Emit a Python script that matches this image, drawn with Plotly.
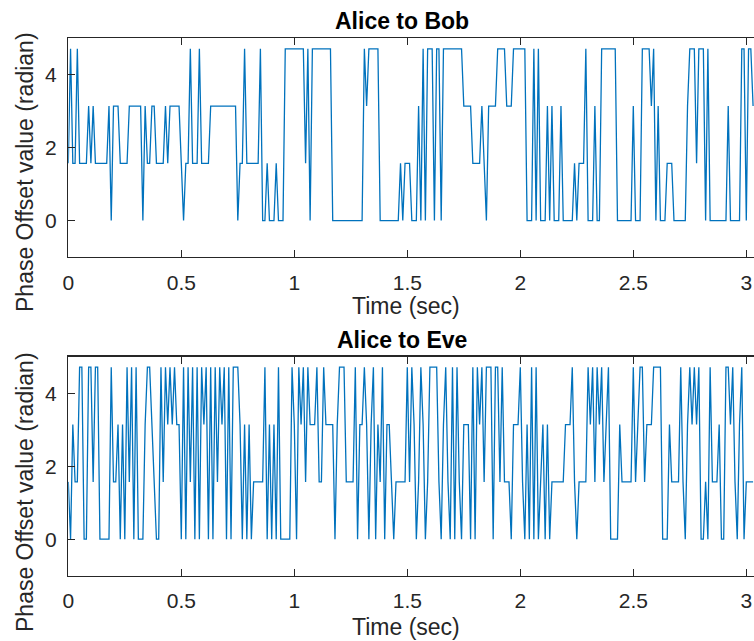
import math
import plotly.graph_objects as go

# Phase level codes (0..3 -> 0, pi/2, pi, 3pi/2), one sample per SAMPLE_PERIOD seconds
SAMPLE_PERIOD = 0.01

bob_levels = [
    1, 3, 1, 1, 3, 1, 1, 1, 1, 2,
    1, 2, 1, 1, 1, 1, 1, 1, 2, 0,
    2, 2, 2, 1, 1, 1, 1, 2, 2, 2,
    2, 2, 2, 0, 2, 1, 1, 2, 2, 1,
    1, 1, 1, 2, 1, 2, 2, 2, 2, 2,
    1, 0, 1, 1, 3, 1, 1, 1, 3, 1,
    1, 1, 1, 2, 2, 2, 2, 2, 2, 2,
    2, 2, 2, 2, 2, 0, 1, 1, 3, 1,
    1, 1, 1, 1, 1, 3, 0, 0, 1, 0,
    0, 0, 1, 0, 0, 0, 3, 3, 3, 3,
    3, 3, 3, 3, 3, 1, 3, 0, 3, 3,
    3, 3, 3, 3, 3, 3, 3, 0, 0, 0,
    0, 0, 0, 0, 0, 0, 0, 0, 0, 0,
    0, 3, 2, 3, 3, 3, 3, 3, 0, 0,
    0, 0, 0, 0, 0, 0, 0, 1, 0, 1,
    1, 1, 0, 0, 0, 2, 0, 3, 0, 3,
    3, 3, 0, 3, 3, 0, 3, 3, 3, 3,
    3, 3, 3, 3, 3, 2, 2, 2, 2, 1,
    1, 1, 1, 2, 1, 0, 2, 2, 2, 2,
    3, 3, 3, 3, 2, 2, 2, 3, 3, 3,
    3, 3, 3, 0, 0, 0, 3, 0, 3, 0,
    0, 0, 2, 0, 2, 0, 0, 0, 2, 0,
    0, 0, 0, 0, 1, 0, 1, 1, 1, 3,
    0, 0, 0, 2, 0, 0, 3, 3, 3, 3,
    3, 3, 3, 0, 0, 0, 0, 0, 0, 0,
    2, 0, 0, 0, 3, 3, 3, 3, 2, 3,
    0, 2, 0, 0, 0, 1, 1, 1, 0, 0,
    0, 0, 0, 0, 2, 3, 3, 3, 1, 3,
    3, 3, 0, 3, 0, 0, 0, 0, 0, 0,
    0, 0, 2, 0, 0, 0, 0, 0, 3, 3,
    0, 3, 3, 2,
]

eve_levels = [
    1, 0, 2, 1, 1, 3, 3, 0, 0, 3,
    3, 1, 3, 3, 0, 0, 0, 0, 0, 3,
    1, 1, 2, 0, 2, 0, 3, 1, 3, 0,
    3, 0, 0, 0, 2, 3, 3, 2, 1, 0,
    0, 3, 1, 3, 2, 3, 2, 3, 2, 2,
    0, 3, 0, 3, 1, 3, 0, 3, 0, 3,
    2, 3, 0, 3, 0, 3, 1, 3, 2, 3,
    0, 3, 0, 3, 3, 3, 2, 0, 2, 0,
    2, 0, 1, 1, 1, 1, 1, 3, 0, 2,
    0, 2, 0, 3, 0, 0, 0, 0, 0, 3,
    2, 0, 3, 2, 3, 1, 3, 2, 2, 2,
    3, 1, 1, 3, 2, 2, 2, 2, 0, 2,
    3, 3, 3, 1, 1, 1, 1, 3, 0, 2,
    2, 3, 2, 0, 2, 3, 0, 2, 1, 3,
    0, 2, 2, 1, 0, 1, 1, 1, 1, 1,
    3, 1, 3, 2, 0, 1, 3, 2, 0, 1,
    3, 3, 3, 3, 1, 0, 2, 3, 1, 0,
    3, 0, 3, 1, 0, 2, 2, 2, 0, 3,
    0, 3, 2, 3, 1, 3, 3, 3, 0, 3,
    3, 1, 3, 1, 1, 1, 0, 2, 2, 2,
    3, 1, 0, 2, 0, 3, 0, 3, 0, 1,
    2, 0, 2, 0, 1, 1, 1, 1, 1, 1,
    2, 2, 2, 3, 1, 0, 1, 1, 1, 1,
    3, 2, 3, 1, 3, 2, 3, 1, 2, 3,
    0, 0, 0, 0, 2, 1, 1, 1, 1, 1,
    3, 1, 2, 3, 3, 1, 2, 2, 2, 3,
    3, 3, 3, 0, 0, 0, 2, 1, 1, 1,
    1, 3, 1, 0, 2, 3, 2, 3, 2, 3,
    0, 0, 1, 0, 3, 1, 1, 1, 2, 0,
    0, 3, 3, 2, 3, 1, 0, 2, 3, 0,
    1, 1, 1, 1,
]

titles = ["Alice to Bob", "Alice to Eve"]
x_label = "Time (sec)"
y_label = "Phase Offset value (radian)"
x_tickvals = [0, 0.5, 1, 1.5, 2, 2.5, 3]
x_ticktext = ["0", "0.5", "1", "1.5", "2", "2.5", "3"]
y_tickvals = [0, 2, 4]
y_ticktext = ["0", "2", "4"]

def to_phase(levels):
    return [k * math.pi / 2 for k in levels]

def to_time(levels):
    return [round(i * SAMPLE_PERIOD, 4) for i in range(len(levels))]

W, H = 754, 641
LINE = "#0072BD"
AX = "#262626"
FONT = "Liberation Sans, Arial, Helvetica, sans-serif"

def fx(px):
    return px / W

def fy(py):
    return 1 - py / H

fig = go.Figure()
fig.add_trace(go.Scatter(x=to_time(bob_levels), y=to_phase(bob_levels), mode="lines",
                         line=dict(color=LINE, width=1.3), xaxis="x", yaxis="y",
                         showlegend=False, hoverinfo="skip"))
fig.add_trace(go.Scatter(x=to_time(eve_levels), y=to_phase(eve_levels), mode="lines",
                         line=dict(color=LINE, width=1.3), xaxis="x2", yaxis="y2",
                         showlegend=False, hoverinfo="skip"))

x_left = 68.3
x_dom = [fx(x_left), 1.0]
x_max = (W - x_left) / 226.0

common_x = dict(range=[0, x_max], tickvals=x_tickvals, ticktext=x_ticktext,
                ticks="inside", ticklen=7, tickwidth=1.2, tickcolor=AX,
                showline=True, linecolor=AX, linewidth=1.3, mirror="ticks",
                showgrid=False, zeroline=False, domain=x_dom, automargin=False,
                tickfont=dict(family=FONT, size=21, color=AX), ticklabelstandoff=6)
common_y = dict(range=[-1, 5], tickvals=y_tickvals, ticktext=y_ticktext,
                ticks="inside", ticklen=7, tickwidth=1.2, tickcolor=AX,
                showline=True, linecolor=AX, linewidth=1.3, mirror=False,
                showgrid=False, zeroline=False, automargin=False,
                tickfont=dict(family=FONT, size=21, color=AX), ticklabelstandoff=6)

fig.update_layout(
    width=W, height=H,
    margin=dict(l=0, r=0, t=0, b=0, pad=0),
    paper_bgcolor="white", plot_bgcolor="white",
    xaxis=dict(common_x, anchor="y"),
    yaxis=dict(common_y, anchor="x", domain=[fy(257.0), fy(38.3)]),
    xaxis2=dict(common_x, anchor="y2"),
    yaxis2=dict(common_y, anchor="x2", domain=[fy(575.7), fy(356.7)]),
)

ann = []
for title, ty in zip(titles, [21, 340]):
    ann.append(dict(text="<b>" + title + "</b>", x=fx(402), y=fy(ty), xref="paper", yref="paper",
                    xanchor="center", yanchor="middle", showarrow=False,
                    font=dict(family=FONT, size=23, color="black")))
for ly in [306, 627]:
    ann.append(dict(text=x_label, x=fx(406), y=fy(ly), xref="paper", yref="paper",
                    xanchor="center", yanchor="middle", showarrow=False,
                    font=dict(family=FONT, size=23, color=AX)))
for ly in [172, 492]:
    ann.append(dict(text=y_label, x=fx(25), y=fy(ly), xref="paper", yref="paper",
                    xanchor="center", yanchor="middle", showarrow=False, textangle=-90,
                    font=dict(family=FONT, size=23, color=AX)))
fig.update_layout(annotations=ann)

page_css = ("document.body.style.margin='0';document.body.style.padding='0';"
            "document.body.style.overflow='hidden';"
            "document.documentElement.style.overflow='hidden';")
fig.write_html("out.html", post_script=page_css,
               config={"displayModeBar": False, "staticPlot": True})
